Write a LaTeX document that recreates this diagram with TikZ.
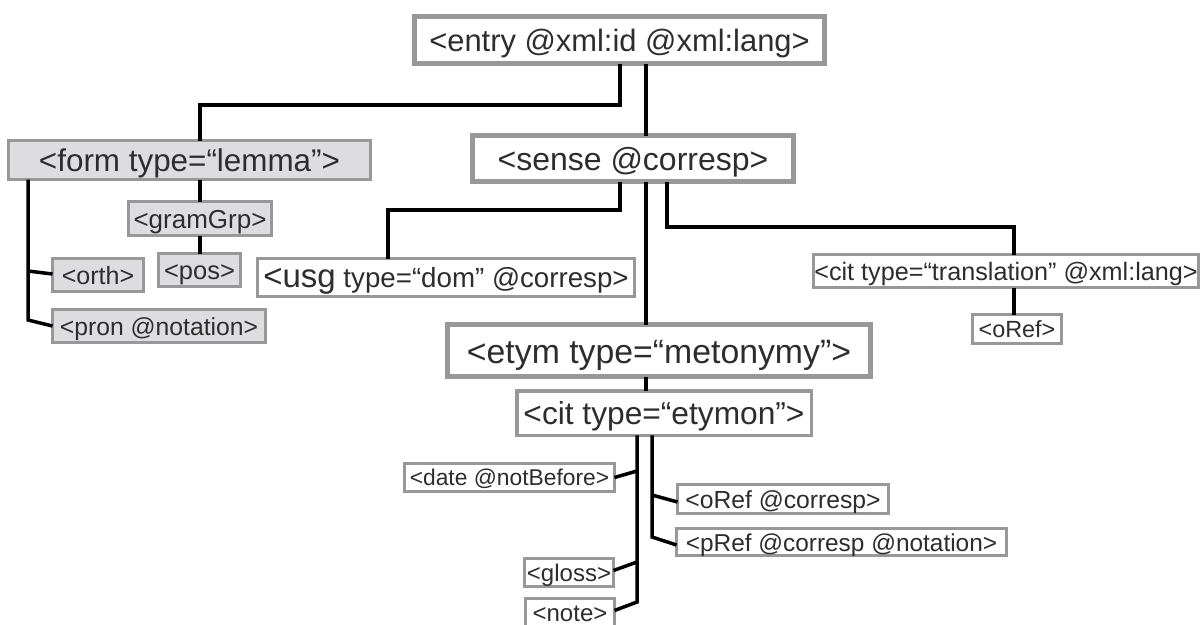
\documentclass[tikz,border=0pt]{standalone}
\usepackage{fontspec}
\setmainfont{Liberation Sans}
\definecolor{bordergray}{RGB}{152,152,152}
\definecolor{fillgray}{RGB}{221,221,223}
\definecolor{txt}{RGB}{45,45,45}
\tikzset{
  box/.style={draw=bordergray, line width=3pt, fill=white, inner sep=0pt, outer sep=0pt, text=txt},
  bigbox/.style={box, line width=5pt},
  graybox/.style={box, fill=fillgray},
  fs/.style={font=\fontsize{#1pt}{#1pt}\selectfont, text height=0.74*#1pt, text depth=0pt},
  conn/.style={draw=black, line width=3.5pt},
}
\begin{document}
\begin{tikzpicture}[x=1pt,y=-1pt]
\useasboundingbox (0,0) rectangle (1202,624);
\clip (0,0) rectangle (1202,624);
% nodes
\node[bigbox, fs=30.9, minimum width=410, minimum height=47] (entry) at (619.5,40) {<entry @xml:id @xml:lang>};
\node[graybox, fs=31.4, minimum width=362, minimum height=39] (form) at (189.5,160) {<form type=“lemma”>};
\node[bigbox, fs=32, minimum width=321, minimum height=46] (sense) at (633,158.5) {<sense @corresp>};
\node[graybox, fs=26, minimum width=143, minimum height=34] (gramGrp) at (200,218.5) {<gramGrp>};
\node[graybox, fs=25, minimum width=91, minimum height=33] (orth) at (98,275) {<orth>};
\node[graybox, fs=25.5, minimum width=82, minimum height=33] (pos) at (199.5,270) {<pos>};
\node[graybox, fs=24.7, minimum width=213, minimum height=33] (pron) at (159,326) {<pron @notation>};
\node[box, fs=27.7, minimum width=377, minimum height=38] (usg) at (446,277.5) {{\fontsize{33pt}{33pt}\selectfont <usg} type=“dom” @corresp>};
\node[box, fs=25.2, minimum width=385, minimum height=33] (citT) at (1006,271) {<cit type=“translation” @xml:lang>};
\node[box, fs=23.4, minimum width=89, minimum height=29] (oRefT) at (1017,329) {<oRef>};
\node[bigbox, fs=33.8, minimum width=423, minimum height=52] (etym) at (659,350.5) {<etym type=“metonymy”>};
\node[box, line width=3.5pt, fs=31.7, minimum width=294.5, minimum height=44.5] (citE) at (664,413) {<cit type=“etymon”>};
\node[box, fs=22.8, minimum width=210, minimum height=28] (date) at (509.5,477.5) {<date @notBefore>};
\node[box, fs=24.7, minimum width=211, minimum height=29] (oRefE) at (783,499) {<oRef @corresp>};
\node[box, fs=24.4, minimum width=330, minimum height=27] (pRef) at (841.5,542) {<pRef @corresp @notation>};
\node[box, fs=24, minimum width=89, minimum height=28] (gloss) at (569,572.5) {<gloss>};
\node[box, fs=24, minimum width=89, minimum height=28] (note) at (570,612.5) {<note>};
% junction coordinates
\coordinate (jA1) at (620,105);
\coordinate (jA2) at (200,105);
\coordinate (sx) at (646,0);
\coordinate (jB1) at (620,210);
\coordinate (jB2) at (388,210);
\coordinate (jC1) at (667,227);
\coordinate (jC2) at (1014,227);
\coordinate (jD0) at (28,320);
\coordinate (jD1) at (28,271);
\coordinate (jE) at (1014,0);
\coordinate (jF) at (637,602);
\coordinate (jF1) at (637,471);
\coordinate (jF2) at (637,562);
\coordinate (jG) at (652,537);
\coordinate (jG1) at (652,495);
% connectors
\draw[conn] (entry.south -| jA1) -- (jA1) -- (jA2) -- (form.north -| jA2);
\draw[conn] (entry.south -| sx) -- (sense.north -| sx);
\draw[conn] (sense.south -| jB1) -- (jB1) -- (jB2) -- (usg.north -| jB2);
\draw[conn] (sense.south -| sx) -- (etym.north -| sx);
\draw[conn] (sense.south -| jC1) -- (jC1) -- (jC2) -- (citT.north -| jC2);
\draw[conn] (form.south -| gramGrp.north) -- (gramGrp.north);
\draw[conn] (gramGrp.south) -- (gramGrp.south |- pos.north);
\draw[conn] (form.south -| jD0) -- (jD0) -- (pron.west);
\draw[conn] (jD1) -- ([yshift=1pt]orth.west);
\draw[conn] (citT.south -| jE) -- (oRefT.north -| jE);
\draw[conn] (etym.south -| sx) -- (citE.north -| sx);
\draw[conn] (citE.south -| jF) -- (jF) -- ([yshift=2pt]note.east);
\draw[conn] (jF1) -- (date.east);
\draw[conn] (jF2) -- ([yshift=2pt]gloss.east);
\draw[conn] (citE.south -| jG) -- (jG) -- ([yshift=-3pt]pRef.west);
\draw[conn] (jG1) -- ([yshift=-3pt]oRefE.west);
\end{tikzpicture}
\end{document}
